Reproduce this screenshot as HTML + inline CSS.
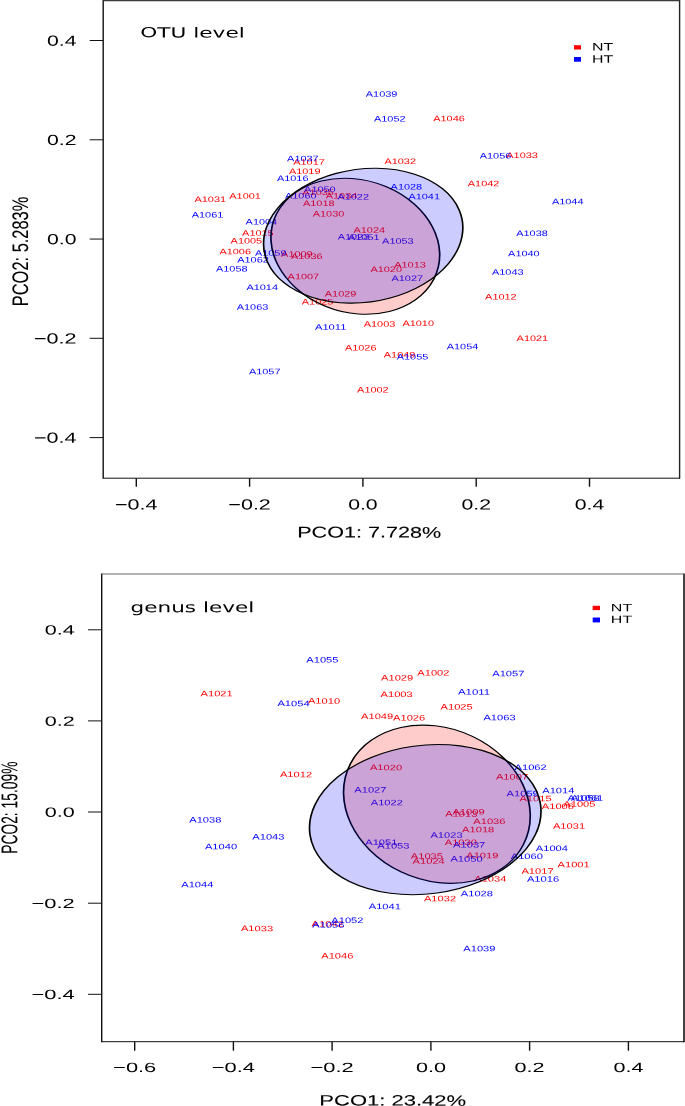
<!DOCTYPE html>
<html lang="en"><head><meta charset="utf-8"><title>PCoA: OTU level and genus level</title>
<style>
html,body{margin:0;padding:0;background:#fff;}
body{width:685px;height:1106px;overflow:hidden;}
svg{display:block;font-family:"Liberation Sans",Arial,Helvetica,sans-serif;}
</style></head><body>
<svg width="685" height="1106" viewBox="0 0 685 1106">
<rect width="685" height="1106" fill="#fff"/>
<text transform="translate(210.30,201.91) scale(1.3660,1) rotate(0.06)" font-size="8.0" text-anchor="middle" fill="#ff0000">A1031</text>
<text transform="translate(245.10,198.81) scale(1.3660,1) rotate(0.06)" font-size="8.0" text-anchor="middle" fill="#ff0000">A1001</text>
<text transform="translate(309.00,164.81) scale(1.3660,1) rotate(0.06)" font-size="8.0" text-anchor="middle" fill="#ff0000">A1017</text>
<text transform="translate(304.70,174.01) scale(1.3660,1) rotate(0.06)" font-size="8.0" text-anchor="middle" fill="#ff0000">A1019</text>
<text transform="translate(400.20,164.11) scale(1.3660,1) rotate(0.06)" font-size="8.0" text-anchor="middle" fill="#ff0000">A1032</text>
<text transform="translate(318.10,195.01) scale(1.3660,1) rotate(0.06)" font-size="8.0" text-anchor="middle" fill="#ff0000">A1035</text>
<text transform="translate(341.50,198.41) scale(1.3660,1) rotate(0.06)" font-size="8.0" text-anchor="middle" fill="#ff0000">A1034</text>
<text transform="translate(318.80,206.01) scale(1.3660,1) rotate(0.06)" font-size="8.0" text-anchor="middle" fill="#ff0000">A1018</text>
<text transform="translate(328.50,216.41) scale(1.3660,1) rotate(0.06)" font-size="8.0" text-anchor="middle" fill="#ff0000">A1030</text>
<text transform="translate(449.00,121.21) scale(1.3660,1) rotate(0.06)" font-size="8.0" text-anchor="middle" fill="#ff0000">A1046</text>
<text transform="translate(522.10,158.11) scale(1.3660,1) rotate(0.06)" font-size="8.0" text-anchor="middle" fill="#ff0000">A1033</text>
<text transform="translate(483.60,186.31) scale(1.3660,1) rotate(0.06)" font-size="8.0" text-anchor="middle" fill="#ff0000">A1042</text>
<text transform="translate(257.90,235.71) scale(1.3660,1) rotate(0.06)" font-size="8.0" text-anchor="middle" fill="#ff0000">A1015</text>
<text transform="translate(246.40,243.51) scale(1.3660,1) rotate(0.06)" font-size="8.0" text-anchor="middle" fill="#ff0000">A1005</text>
<text transform="translate(235.20,254.31) scale(1.3660,1) rotate(0.06)" font-size="8.0" text-anchor="middle" fill="#ff0000">A1006</text>
<text transform="translate(296.90,256.81) scale(1.3660,1) rotate(0.06)" font-size="8.0" text-anchor="middle" fill="#ff0000">A1009</text>
<text transform="translate(306.80,259.11) scale(1.3660,1) rotate(0.06)" font-size="8.0" text-anchor="middle" fill="#ff0000">A1036</text>
<text transform="translate(303.40,279.31) scale(1.3660,1) rotate(0.06)" font-size="8.0" text-anchor="middle" fill="#ff0000">A1007</text>
<text transform="translate(369.30,232.81) scale(1.3660,1) rotate(0.06)" font-size="8.0" text-anchor="middle" fill="#ff0000">A1024</text>
<text transform="translate(410.00,267.61) scale(1.3660,1) rotate(0.06)" font-size="8.0" text-anchor="middle" fill="#ff0000">A1013</text>
<text transform="translate(386.20,271.91) scale(1.3660,1) rotate(0.06)" font-size="8.0" text-anchor="middle" fill="#ff0000">A1020</text>
<text transform="translate(340.60,296.51) scale(1.3660,1) rotate(0.06)" font-size="8.0" text-anchor="middle" fill="#ff0000">A1029</text>
<text transform="translate(317.60,304.61) scale(1.3660,1) rotate(0.06)" font-size="8.0" text-anchor="middle" fill="#ff0000">A1025</text>
<text transform="translate(379.50,326.71) scale(1.3660,1) rotate(0.06)" font-size="8.0" text-anchor="middle" fill="#ff0000">A1003</text>
<text transform="translate(418.20,325.91) scale(1.3660,1) rotate(0.06)" font-size="8.0" text-anchor="middle" fill="#ff0000">A1010</text>
<text transform="translate(360.70,350.41) scale(1.3660,1) rotate(0.06)" font-size="8.0" text-anchor="middle" fill="#ff0000">A1026</text>
<text transform="translate(399.60,357.61) scale(1.3660,1) rotate(0.06)" font-size="8.0" text-anchor="middle" fill="#ff0000">A1049</text>
<text transform="translate(500.90,299.61) scale(1.3660,1) rotate(0.06)" font-size="8.0" text-anchor="middle" fill="#ff0000">A1012</text>
<text transform="translate(532.40,341.01) scale(1.3660,1) rotate(0.06)" font-size="8.0" text-anchor="middle" fill="#ff0000">A1021</text>
<text transform="translate(372.90,392.61) scale(1.3660,1) rotate(0.06)" font-size="8.0" text-anchor="middle" fill="#ff0000">A1002</text>
<text transform="translate(207.50,217.51) scale(1.3660,1) rotate(0.06)" font-size="8.0" text-anchor="middle" fill="#0000ff">A1061</text>
<text transform="translate(302.90,161.21) scale(1.3660,1) rotate(0.06)" font-size="8.0" text-anchor="middle" fill="#0000ff">A1037</text>
<text transform="translate(292.70,181.01) scale(1.3660,1) rotate(0.06)" font-size="8.0" text-anchor="middle" fill="#0000ff">A1016</text>
<text transform="translate(300.80,198.41) scale(1.3660,1) rotate(0.06)" font-size="8.0" text-anchor="middle" fill="#0000ff">A1060</text>
<text transform="translate(319.90,192.11) scale(1.3660,1) rotate(0.06)" font-size="8.0" text-anchor="middle" fill="#0000ff">A1050</text>
<text transform="translate(353.20,199.61) scale(1.3660,1) rotate(0.06)" font-size="8.0" text-anchor="middle" fill="#0000ff">A1022</text>
<text transform="translate(406.40,189.51) scale(1.3660,1) rotate(0.06)" font-size="8.0" text-anchor="middle" fill="#0000ff">A1028</text>
<text transform="translate(424.20,199.31) scale(1.3660,1) rotate(0.06)" font-size="8.0" text-anchor="middle" fill="#0000ff">A1041</text>
<text transform="translate(495.50,158.51) scale(1.3660,1) rotate(0.06)" font-size="8.0" text-anchor="middle" fill="#0000ff">A1056</text>
<text transform="translate(567.70,204.31) scale(1.3660,1) rotate(0.06)" font-size="8.0" text-anchor="middle" fill="#0000ff">A1044</text>
<text transform="translate(381.60,96.71) scale(1.3660,1) rotate(0.06)" font-size="8.0" text-anchor="middle" fill="#0000ff">A1039</text>
<text transform="translate(389.80,121.41) scale(1.3660,1) rotate(0.06)" font-size="8.0" text-anchor="middle" fill="#0000ff">A1052</text>
<text transform="translate(261.40,224.41) scale(1.3660,1) rotate(0.06)" font-size="8.0" text-anchor="middle" fill="#0000ff">A1004</text>
<text transform="translate(270.70,255.71) scale(1.3660,1) rotate(0.06)" font-size="8.0" text-anchor="middle" fill="#0000ff">A1059</text>
<text transform="translate(253.00,262.51) scale(1.3660,1) rotate(0.06)" font-size="8.0" text-anchor="middle" fill="#0000ff">A1062</text>
<text transform="translate(231.80,271.51) scale(1.3660,1) rotate(0.06)" font-size="8.0" text-anchor="middle" fill="#0000ff">A1058</text>
<text transform="translate(262.20,290.11) scale(1.3660,1) rotate(0.06)" font-size="8.0" text-anchor="middle" fill="#0000ff">A1014</text>
<text transform="translate(353.50,239.61) scale(1.3660,1) rotate(0.06)" font-size="8.0" text-anchor="middle" fill="#0000ff">A1023</text>
<text transform="translate(363.80,240.01) scale(1.3660,1) rotate(0.06)" font-size="8.0" text-anchor="middle" fill="#0000ff">A1051</text>
<text transform="translate(397.90,243.71) scale(1.3660,1) rotate(0.06)" font-size="8.0" text-anchor="middle" fill="#0000ff">A1053</text>
<text transform="translate(407.30,281.11) scale(1.3660,1) rotate(0.06)" font-size="8.0" text-anchor="middle" fill="#0000ff">A1027</text>
<text transform="translate(532.00,235.91) scale(1.3660,1) rotate(0.06)" font-size="8.0" text-anchor="middle" fill="#0000ff">A1038</text>
<text transform="translate(523.90,256.31) scale(1.3660,1) rotate(0.06)" font-size="8.0" text-anchor="middle" fill="#0000ff">A1040</text>
<text transform="translate(507.80,274.71) scale(1.3660,1) rotate(0.06)" font-size="8.0" text-anchor="middle" fill="#0000ff">A1043</text>
<text transform="translate(252.50,309.81) scale(1.3660,1) rotate(0.06)" font-size="8.0" text-anchor="middle" fill="#0000ff">A1063</text>
<text transform="translate(330.70,329.81) scale(1.4020,1) rotate(0.06)" font-size="8.0" text-anchor="middle" fill="#0000ff">A1011</text>
<text transform="translate(412.50,359.41) scale(1.3660,1) rotate(0.06)" font-size="8.0" text-anchor="middle" fill="#0000ff">A1055</text>
<text transform="translate(462.50,349.21) scale(1.3660,1) rotate(0.06)" font-size="8.0" text-anchor="middle" fill="#0000ff">A1054</text>
<text transform="translate(264.70,374.31) scale(1.3660,1) rotate(0.06)" font-size="8.0" text-anchor="middle" fill="#0000ff">A1057</text>
<g transform="translate(355.30,246.25) scale(1.45,1)"><ellipse cx="0" cy="0" rx="69.34" ry="56.61" transform="rotate(70.225)" fill="rgba(255,0,0,0.2)" stroke="#000" stroke-width="1.15"/></g>
<g transform="translate(363.20,235.70) scale(1.45,1)"><ellipse cx="0" cy="0" rx="72.09" ry="63.89" transform="rotate(139.297)" fill="rgba(0,0,255,0.2)" stroke="#000" stroke-width="1.15"/></g>
<line x1="103.20" y1="0.00" x2="103.20" y2="478.70" stroke="#111" stroke-width="1.4"/>
<line x1="679.60" y1="0.00" x2="679.60" y2="478.70" stroke="#222" stroke-width="1.4"/>
<line x1="103.20" y1="0.60" x2="679.60" y2="0.60" stroke="#3a3a3a" stroke-width="1.2"/>
<line x1="103.20" y1="478.20" x2="679.60" y2="478.20" stroke="#111" stroke-width="1.0"/>
<line x1="136.30" y1="478.20" x2="136.30" y2="486.70" stroke="#111" stroke-width="1.4"/>
<text transform="translate(136.30,509.46) scale(1.4645,1) rotate(0.06)" font-size="14.7" text-anchor="middle" fill="#000">−0.4</text>
<line x1="249.60" y1="478.20" x2="249.60" y2="486.70" stroke="#111" stroke-width="1.4"/>
<text transform="translate(249.60,509.46) scale(1.4645,1) rotate(0.06)" font-size="14.7" text-anchor="middle" fill="#000">−0.2</text>
<line x1="362.90" y1="478.20" x2="362.90" y2="486.70" stroke="#111" stroke-width="1.4"/>
<text transform="translate(362.90,509.46) scale(1.4436,1) rotate(0.06)" font-size="14.7" text-anchor="middle" fill="#000">0.0</text>
<line x1="476.20" y1="478.20" x2="476.20" y2="486.70" stroke="#111" stroke-width="1.4"/>
<text transform="translate(476.20,509.46) scale(1.4436,1) rotate(0.06)" font-size="14.7" text-anchor="middle" fill="#000">0.2</text>
<line x1="589.50" y1="478.20" x2="589.50" y2="486.70" stroke="#111" stroke-width="1.4"/>
<text transform="translate(589.50,509.46) scale(1.4436,1) rotate(0.06)" font-size="14.7" text-anchor="middle" fill="#000">0.4</text>
<line x1="89.70" y1="40.50" x2="103.20" y2="40.50" stroke="#111" stroke-width="1.0"/>
<text transform="translate(61.75,45.76) scale(1.4436,1) rotate(0.06)" font-size="14.7" text-anchor="middle" fill="#000">0.4</text>
<line x1="89.70" y1="139.80" x2="103.20" y2="139.80" stroke="#111" stroke-width="1.0"/>
<text transform="translate(61.75,145.06) scale(1.4436,1) rotate(0.06)" font-size="14.7" text-anchor="middle" fill="#000">0.2</text>
<line x1="89.70" y1="239.05" x2="103.20" y2="239.05" stroke="#111" stroke-width="1.0"/>
<text transform="translate(61.75,244.31) scale(1.4436,1) rotate(0.06)" font-size="14.7" text-anchor="middle" fill="#000">0.0</text>
<line x1="89.70" y1="338.30" x2="103.20" y2="338.30" stroke="#111" stroke-width="1.0"/>
<text transform="translate(55.25,343.56) scale(1.4645,1) rotate(0.06)" font-size="14.7" text-anchor="middle" fill="#000">−0.2</text>
<line x1="89.70" y1="437.60" x2="103.20" y2="437.60" stroke="#111" stroke-width="1.0"/>
<text transform="translate(55.25,442.86) scale(1.4645,1) rotate(0.06)" font-size="14.7" text-anchor="middle" fill="#000">−0.4</text>
<text transform="translate(192.50,37.40) scale(1.5468,1) rotate(0.06)" font-size="14.0" text-anchor="middle" fill="#000" font-family="DejaVu Sans, Liberation Sans, sans-serif">OTU level</text>
<text transform="translate(369.20,537.60) scale(1.3838,1) rotate(0.06)" font-size="15.6" text-anchor="middle" fill="#000" stroke="#000" stroke-width="0.1">PCO1: 7.728%</text>
<text transform="translate(19.95,251.45) scale(1.450,1) rotate(-90.06) scale(1.0591,1)" x="0" y="5.55" font-size="15.5" text-anchor="middle" fill="#000" stroke="#000" stroke-width="0.05">PCO2: 5.283%</text>
<rect x="574" y="45.2" width="7" height="4.3" fill="#ff0000"/>
<text transform="translate(602.50,50.50) scale(1.4726,1) rotate(0.06)" font-size="10.8" text-anchor="middle" fill="#000">NT</text>
<rect x="574" y="57" width="7" height="4.7" fill="#0000ff"/>
<text transform="translate(602.50,62.80) scale(1.4726,1) rotate(0.06)" font-size="10.8" text-anchor="middle" fill="#000">HT</text>
<text transform="translate(216.60,696.23) scale(1.4096,1) rotate(0.06)" font-size="7.9" text-anchor="middle" fill="#ff0000">A1021</text>
<text transform="translate(324.00,703.63) scale(1.4096,1) rotate(0.06)" font-size="7.9" text-anchor="middle" fill="#ff0000">A1010</text>
<text transform="translate(397.10,680.53) scale(1.4096,1) rotate(0.06)" font-size="7.9" text-anchor="middle" fill="#ff0000">A1029</text>
<text transform="translate(396.60,696.93) scale(1.4096,1) rotate(0.06)" font-size="7.9" text-anchor="middle" fill="#ff0000">A1003</text>
<text transform="translate(377.10,718.93) scale(1.4096,1) rotate(0.06)" font-size="7.9" text-anchor="middle" fill="#ff0000">A1049</text>
<text transform="translate(409.10,720.43) scale(1.4096,1) rotate(0.06)" font-size="7.9" text-anchor="middle" fill="#ff0000">A1026</text>
<text transform="translate(433.40,675.43) scale(1.4096,1) rotate(0.06)" font-size="7.9" text-anchor="middle" fill="#ff0000">A1002</text>
<text transform="translate(456.60,709.53) scale(1.4096,1) rotate(0.06)" font-size="7.9" text-anchor="middle" fill="#ff0000">A1025</text>
<text transform="translate(296.00,777.13) scale(1.4096,1) rotate(0.06)" font-size="7.9" text-anchor="middle" fill="#ff0000">A1012</text>
<text transform="translate(386.00,770.13) scale(1.4096,1) rotate(0.06)" font-size="7.9" text-anchor="middle" fill="#ff0000">A1020</text>
<text transform="translate(512.00,779.43) scale(1.4096,1) rotate(0.06)" font-size="7.9" text-anchor="middle" fill="#ff0000">A1007</text>
<text transform="translate(535.50,801.23) scale(1.4096,1) rotate(0.06)" font-size="7.9" text-anchor="middle" fill="#ff0000">A1015</text>
<text transform="translate(579.40,806.73) scale(1.4096,1) rotate(0.06)" font-size="7.9" text-anchor="middle" fill="#ff0000">A1005</text>
<text transform="translate(557.90,808.93) scale(1.4096,1) rotate(0.06)" font-size="7.9" text-anchor="middle" fill="#ff0000">A1006</text>
<text transform="translate(468.50,814.43) scale(1.4096,1) rotate(0.06)" font-size="7.9" text-anchor="middle" fill="#ff0000">A1009</text>
<text transform="translate(461.30,816.63) scale(1.4096,1) rotate(0.06)" font-size="7.9" text-anchor="middle" fill="#ff0000">A1013</text>
<text transform="translate(489.40,824.03) scale(1.4096,1) rotate(0.06)" font-size="7.9" text-anchor="middle" fill="#ff0000">A1036</text>
<text transform="translate(478.20,832.33) scale(1.4096,1) rotate(0.06)" font-size="7.9" text-anchor="middle" fill="#ff0000">A1018</text>
<text transform="translate(460.80,845.03) scale(1.4096,1) rotate(0.06)" font-size="7.9" text-anchor="middle" fill="#ff0000">A1030</text>
<text transform="translate(482.30,858.13) scale(1.4096,1) rotate(0.06)" font-size="7.9" text-anchor="middle" fill="#ff0000">A1019</text>
<text transform="translate(426.90,858.73) scale(1.4096,1) rotate(0.06)" font-size="7.9" text-anchor="middle" fill="#ff0000">A1035</text>
<text transform="translate(428.70,863.83) scale(1.4096,1) rotate(0.06)" font-size="7.9" text-anchor="middle" fill="#ff0000">A1024</text>
<text transform="translate(490.30,881.53) scale(1.4096,1) rotate(0.06)" font-size="7.9" text-anchor="middle" fill="#ff0000">A1034</text>
<text transform="translate(440.00,901.33) scale(1.4096,1) rotate(0.06)" font-size="7.9" text-anchor="middle" fill="#ff0000">A1032</text>
<text transform="translate(537.50,873.83) scale(1.4096,1) rotate(0.06)" font-size="7.9" text-anchor="middle" fill="#ff0000">A1017</text>
<text transform="translate(569.00,828.83) scale(1.4096,1) rotate(0.06)" font-size="7.9" text-anchor="middle" fill="#ff0000">A1031</text>
<text transform="translate(573.60,867.33) scale(1.4096,1) rotate(0.06)" font-size="7.9" text-anchor="middle" fill="#ff0000">A1001</text>
<text transform="translate(257.00,931.13) scale(1.4096,1) rotate(0.06)" font-size="7.9" text-anchor="middle" fill="#ff0000">A1033</text>
<text transform="translate(337.30,958.43) scale(1.4096,1) rotate(0.06)" font-size="7.9" text-anchor="middle" fill="#ff0000">A1046</text>
<text transform="translate(327.70,926.43) scale(1.4096,1) rotate(0.06)" font-size="7.9" text-anchor="middle" fill="#ff0000">A1042</text>
<text transform="translate(293.50,706.13) scale(1.4096,1) rotate(0.06)" font-size="7.9" text-anchor="middle" fill="#0000ff">A1054</text>
<text transform="translate(322.40,662.53) scale(1.4096,1) rotate(0.06)" font-size="7.9" text-anchor="middle" fill="#0000ff">A1055</text>
<text transform="translate(474.00,694.63) scale(1.4467,1) rotate(0.06)" font-size="7.9" text-anchor="middle" fill="#0000ff">A1011</text>
<text transform="translate(508.30,676.23) scale(1.4096,1) rotate(0.06)" font-size="7.9" text-anchor="middle" fill="#0000ff">A1057</text>
<text transform="translate(499.50,720.23) scale(1.4096,1) rotate(0.06)" font-size="7.9" text-anchor="middle" fill="#0000ff">A1063</text>
<text transform="translate(370.40,792.43) scale(1.4096,1) rotate(0.06)" font-size="7.9" text-anchor="middle" fill="#0000ff">A1027</text>
<text transform="translate(386.80,805.23) scale(1.4096,1) rotate(0.06)" font-size="7.9" text-anchor="middle" fill="#0000ff">A1022</text>
<text transform="translate(530.60,769.93) scale(1.4096,1) rotate(0.06)" font-size="7.9" text-anchor="middle" fill="#0000ff">A1062</text>
<text transform="translate(558.30,793.33) scale(1.4096,1) rotate(0.06)" font-size="7.9" text-anchor="middle" fill="#0000ff">A1014</text>
<text transform="translate(522.70,796.23) scale(1.4096,1) rotate(0.06)" font-size="7.9" text-anchor="middle" fill="#0000ff">A1059</text>
<text transform="translate(583.60,800.73) scale(1.4096,1) rotate(0.06)" font-size="7.9" text-anchor="middle" fill="#0000ff">A1058</text>
<text transform="translate(587.20,800.73) scale(1.4096,1) rotate(0.06)" font-size="7.9" text-anchor="middle" fill="#0000ff">A1061</text>
<text transform="translate(446.50,837.73) scale(1.4096,1) rotate(0.06)" font-size="7.9" text-anchor="middle" fill="#0000ff">A1023</text>
<text transform="translate(469.20,847.53) scale(1.4096,1) rotate(0.06)" font-size="7.9" text-anchor="middle" fill="#0000ff">A1037</text>
<text transform="translate(466.50,861.63) scale(1.4096,1) rotate(0.06)" font-size="7.9" text-anchor="middle" fill="#0000ff">A1050</text>
<text transform="translate(526.80,858.93) scale(1.4096,1) rotate(0.06)" font-size="7.9" text-anchor="middle" fill="#0000ff">A1060</text>
<text transform="translate(393.40,848.43) scale(1.4096,1) rotate(0.06)" font-size="7.9" text-anchor="middle" fill="#0000ff">A1053</text>
<text transform="translate(381.30,845.03) scale(1.4096,1) rotate(0.06)" font-size="7.9" text-anchor="middle" fill="#0000ff">A1051</text>
<text transform="translate(205.30,822.53) scale(1.4096,1) rotate(0.06)" font-size="7.9" text-anchor="middle" fill="#0000ff">A1038</text>
<text transform="translate(268.40,839.53) scale(1.4096,1) rotate(0.06)" font-size="7.9" text-anchor="middle" fill="#0000ff">A1043</text>
<text transform="translate(221.00,849.33) scale(1.4096,1) rotate(0.06)" font-size="7.9" text-anchor="middle" fill="#0000ff">A1040</text>
<text transform="translate(197.30,887.23) scale(1.4096,1) rotate(0.06)" font-size="7.9" text-anchor="middle" fill="#0000ff">A1044</text>
<text transform="translate(384.80,909.13) scale(1.4096,1) rotate(0.06)" font-size="7.9" text-anchor="middle" fill="#0000ff">A1041</text>
<text transform="translate(347.40,922.93) scale(1.4096,1) rotate(0.06)" font-size="7.9" text-anchor="middle" fill="#0000ff">A1052</text>
<text transform="translate(328.40,927.63) scale(1.4096,1) rotate(0.06)" font-size="7.9" text-anchor="middle" fill="#0000ff">A1056</text>
<text transform="translate(476.90,896.23) scale(1.4096,1) rotate(0.06)" font-size="7.9" text-anchor="middle" fill="#0000ff">A1028</text>
<text transform="translate(543.00,881.83) scale(1.4096,1) rotate(0.06)" font-size="7.9" text-anchor="middle" fill="#0000ff">A1016</text>
<text transform="translate(551.90,850.93) scale(1.4096,1) rotate(0.06)" font-size="7.9" text-anchor="middle" fill="#0000ff">A1004</text>
<text transform="translate(479.40,951.33) scale(1.4096,1) rotate(0.06)" font-size="7.9" text-anchor="middle" fill="#0000ff">A1039</text>
<g transform="translate(436.90,804.20) scale(1.45,1)"><ellipse cx="0" cy="0" rx="80.64" ry="62.44" transform="rotate(72.093)" fill="rgba(255,0,0,0.2)" stroke="#000" stroke-width="1.15"/></g>
<g transform="translate(425.25,819.60) scale(1.45,1)"><ellipse cx="0" cy="0" rx="82.24" ry="72.45" transform="rotate(149.449)" fill="rgba(0,0,255,0.2)" stroke="#000" stroke-width="1.15"/></g>
<line x1="101.70" y1="573.40" x2="101.70" y2="1042.20" stroke="#111" stroke-width="1.4"/>
<line x1="684.00" y1="573.40" x2="684.00" y2="1042.20" stroke="#444" stroke-width="2.0"/>
<line x1="101.70" y1="574.00" x2="684.00" y2="574.00" stroke="#666" stroke-width="1.2"/>
<line x1="101.70" y1="1041.70" x2="684.00" y2="1041.70" stroke="#111" stroke-width="1.0"/>
<line x1="134.70" y1="1041.70" x2="134.70" y2="1050.70" stroke="#111" stroke-width="1.4"/>
<text transform="translate(134.70,1071.90) scale(1.6331,1) rotate(0.06)" font-size="13.4" text-anchor="middle" fill="#000">−0.6</text>
<line x1="233.40" y1="1041.70" x2="233.40" y2="1050.70" stroke="#111" stroke-width="1.4"/>
<text transform="translate(233.40,1071.90) scale(1.6331,1) rotate(0.06)" font-size="13.4" text-anchor="middle" fill="#000">−0.4</text>
<line x1="332.10" y1="1041.70" x2="332.10" y2="1050.70" stroke="#111" stroke-width="1.4"/>
<text transform="translate(332.10,1071.90) scale(1.6331,1) rotate(0.06)" font-size="13.4" text-anchor="middle" fill="#000">−0.2</text>
<line x1="430.90" y1="1041.70" x2="430.90" y2="1050.70" stroke="#111" stroke-width="1.4"/>
<text transform="translate(430.90,1071.90) scale(1.6105,1) rotate(0.06)" font-size="13.4" text-anchor="middle" fill="#000">0.0</text>
<line x1="529.60" y1="1041.70" x2="529.60" y2="1050.70" stroke="#111" stroke-width="1.4"/>
<text transform="translate(529.60,1071.90) scale(1.6105,1) rotate(0.06)" font-size="13.4" text-anchor="middle" fill="#000">0.2</text>
<line x1="628.40" y1="1041.70" x2="628.40" y2="1050.70" stroke="#111" stroke-width="1.4"/>
<text transform="translate(628.40,1071.90) scale(1.6105,1) rotate(0.06)" font-size="13.4" text-anchor="middle" fill="#000">0.4</text>
<line x1="88.00" y1="629.80" x2="101.70" y2="629.80" stroke="#111" stroke-width="1.0"/>
<text transform="translate(59.70,634.60) scale(1.6105,1) rotate(0.06)" font-size="13.4" text-anchor="middle" fill="#000">0.4</text>
<line x1="88.00" y1="720.90" x2="101.70" y2="720.90" stroke="#111" stroke-width="1.0"/>
<text transform="translate(59.70,725.70) scale(1.6105,1) rotate(0.06)" font-size="13.4" text-anchor="middle" fill="#000">0.2</text>
<line x1="88.00" y1="812.00" x2="101.70" y2="812.00" stroke="#111" stroke-width="1.0"/>
<text transform="translate(59.70,816.80) scale(1.6105,1) rotate(0.06)" font-size="13.4" text-anchor="middle" fill="#000">0.0</text>
<line x1="88.00" y1="903.20" x2="101.70" y2="903.20" stroke="#111" stroke-width="1.0"/>
<text transform="translate(53.10,908.00) scale(1.6331,1) rotate(0.06)" font-size="13.4" text-anchor="middle" fill="#000">−0.2</text>
<line x1="88.00" y1="994.30" x2="101.70" y2="994.30" stroke="#111" stroke-width="1.0"/>
<text transform="translate(53.10,999.10) scale(1.6331,1) rotate(0.06)" font-size="13.4" text-anchor="middle" fill="#000">−0.4</text>
<text transform="translate(192.35,612.30) scale(1.4889,1) rotate(0.06)" font-size="14.5" text-anchor="middle" fill="#000" font-family="DejaVu Sans, Liberation Sans, sans-serif">genus level</text>
<text transform="translate(392.70,1105.60) scale(1.4672,1) rotate(0.06)" font-size="15.0" text-anchor="middle" fill="#000" stroke="#000" stroke-width="0.1">PCO1: 23.42%</text>
<text transform="translate(9.05,807.70) scale(1.450,1) rotate(-90.06) scale(0.8814,1)" x="0" y="5.62" font-size="15.7" text-anchor="middle" fill="#000" stroke="#000" stroke-width="0.05">PCO2: 15.09%</text>
<rect x="592.7" y="605.8" width="7.3" height="4.3" fill="#ff0000"/>
<text transform="translate(621.50,611.20) scale(1.5004,1) rotate(0.06)" font-size="10.7" text-anchor="middle" fill="#000">NT</text>
<rect x="592.7" y="617.5" width="7.3" height="4.9" fill="#0000ff"/>
<text transform="translate(621.50,623.10) scale(1.5004,1) rotate(0.06)" font-size="10.7" text-anchor="middle" fill="#000">HT</text>
</svg>
</body></html>
